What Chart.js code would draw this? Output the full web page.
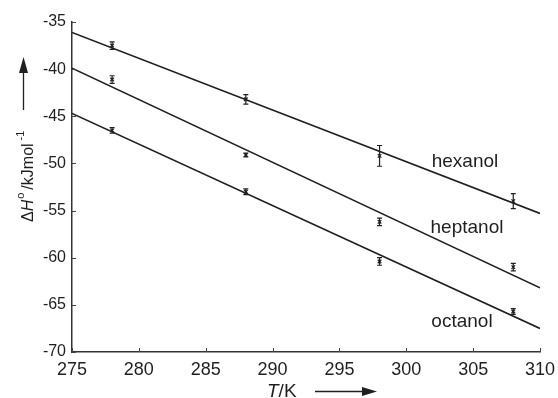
<!DOCTYPE html>
<html>
<head>
<meta charset="utf-8">
<script src="https://cdn.jsdelivr.net/npm/chart.js@4/dist/chart.umd.min.js"></script>
<style>
  html, body { margin: 0; padding: 0; background: #fff; }
  #wrap { width: 558px; height: 398px; }
</style>
</head>
<body>
<div id="wrap"><canvas id="chart" width="558" height="398"></canvas></div>
<script>
// Data
const temps = [278, 288, 298, 308];
const hexanol = [-37.5, -43.2, -49.2, -54.0];
const hexanolErr = [0.4, 0.5, 1.1, 0.8];
const heptanol = [-41.1, -49.1, -56.2, -61.0];
const heptanolErr = [0.4, 0.2, 0.4, 0.4];
const octanol = [-46.5, -53.0, -60.4, -65.7];
const octanolErr = [0.3, 0.3, 0.4, 0.3];

// fitted lines, ends at T = 275 and T = 310
const fitX = [275, 310];
const hexanolFit = [-36.1, -55.3];
const heptanolFit = [-39.9, -63.2];
const octanolFit = [-44.7, -67.5];

const xTicks = [275, 280, 285, 290, 295, 300, 305, 310];
const yTicks = [-35, -40, -45, -50, -55, -60, -65, -70];

const ink = '#1f1f1f';
const font = '"Liberation Sans", Arial, sans-serif';

const toPoints = (xs, ys) => xs.map((x, i) => ({ x: x, y: ys[i] }));

function pointSet(ys, errs) {
    return {
        type: 'scatter',
        data: toPoints(temps, ys),
        errors: errs,
        pointStyle: 'crossRot',
        pointRadius: 2.5,
        borderColor: ink,
        borderWidth: 1.3,
        backgroundColor: ink
    };
}

function fitSet(ys) {
    return {
        type: 'line',
        data: toPoints(fitX, ys),
        borderColor: ink,
        borderWidth: 1.6,
        pointRadius: 0,
        fill: false
    };
}

// Error bars, inward tick marks, series labels and axis titles
const extras = {
    id: 'extras',
    afterDatasetsDraw(chart) {
        const ctx = chart.ctx;
        const xs = chart.scales.x;
        const ys = chart.scales.y;
        ctx.save();
        ctx.strokeStyle = ink;
        ctx.fillStyle = ink;
        ctx.lineWidth = 1.2;

        chart.data.datasets.forEach(ds => {
            if (!ds.errors) return;
            ds.data.forEach((p, i) => {
                const px = xs.getPixelForValue(p.x);
                const top = ys.getPixelForValue(p.y + ds.errors[i]);
                const bot = ys.getPixelForValue(p.y - ds.errors[i]);
                ctx.beginPath();
                ctx.moveTo(px, top); ctx.lineTo(px, bot);
                ctx.moveTo(px - 2.5, top); ctx.lineTo(px + 2.5, top);
                ctx.moveTo(px - 2.5, bot); ctx.lineTo(px + 2.5, bot);
                ctx.stroke();
            });
        });

        // tick marks pointing into the plot
        ctx.lineWidth = 1;
        ctx.strokeStyle = '#444';
        xTicks.forEach(v => {
            const px = Math.round(xs.getPixelForValue(v)) + 0.5;
            ctx.beginPath();
            ctx.moveTo(px, ys.bottom); ctx.lineTo(px, ys.bottom - 4);
            ctx.stroke();
        });
        yTicks.forEach(v => {
            const py = Math.round(ys.getPixelForValue(v)) + 0.5;
            ctx.beginPath();
            ctx.moveTo(xs.left, py); ctx.lineTo(xs.left + 4, py);
            ctx.stroke();
        });

        // series names
        ctx.fillStyle = ink;
        ctx.font = '19px ' + font;
        ctx.textAlign = 'center';
        ctx.textBaseline = 'middle';
        ctx.fillText('hexanol', 465, 162);
        ctx.fillText('heptanol', 467, 228);
        ctx.fillText('octanol', 462, 322);

        // x title with arrow
        ctx.font = 'italic 19px ' + font;
        ctx.textAlign = 'left';
        ctx.textBaseline = 'alphabetic';
        ctx.fillText('T', 267, 397);
        let w = ctx.measureText('T').width;
        ctx.font = '19px ' + font;
        ctx.fillText('/K', 267 + w, 397);
        ctx.lineWidth = 1.3;
        ctx.strokeStyle = ink;
        ctx.beginPath();
        ctx.moveTo(315, 391.5); ctx.lineTo(366, 391.5);
        ctx.stroke();
        ctx.beginPath();
        ctx.moveTo(377, 391.5); ctx.lineTo(362, 387); ctx.lineTo(362, 396);
        ctx.closePath(); ctx.fill();

        // y title (rotated) with arrow
        ctx.save();
        ctx.translate(33, 222);
        ctx.rotate(-Math.PI / 2);
        let cx = 0;
        ctx.font = '16px ' + font;
        ctx.fillText('\u0394', cx, 0); cx += ctx.measureText('\u0394').width;
        ctx.font = 'italic 16px ' + font;
        ctx.fillText('H', cx, 0); cx += ctx.measureText('H').width + 1;
        ctx.font = '11px ' + font;
        ctx.fillText('o', cx, -9); cx += ctx.measureText('o').width + 3;
        ctx.font = '16px ' + font;
        ctx.fillText('/kJmol', cx, 0); cx += ctx.measureText('/kJmol').width + 3;
        ctx.font = '11px ' + font;
        ctx.fillText('-1', cx, -9);
        ctx.restore();

        ctx.beginPath();
        ctx.moveTo(23.5, 110); ctx.lineTo(23.5, 70);
        ctx.stroke();
        ctx.beginPath();
        ctx.moveTo(23.5, 57); ctx.lineTo(19, 73); ctx.lineTo(28, 73);
        ctx.closePath(); ctx.fill();

        ctx.restore();
    }
};

new Chart(document.getElementById('chart'), {
    data: {
        datasets: [
            fitSet(hexanolFit), fitSet(heptanolFit), fitSet(octanolFit),
            pointSet(hexanol, hexanolErr), pointSet(heptanol, heptanolErr), pointSet(octanol, octanolErr)
        ]
    },
    options: {
        responsive: false,
        animation: false,
        events: [],
        layout: { padding: { top: 22, right: 18, left: 0, bottom: 0 } },
        plugins: { legend: { display: false }, tooltip: { enabled: false } },
        scales: {
            x: {
                type: 'linear',
                min: 275, max: 310,
                afterFit: s => { s.height = 46; s.paddingLeft = 0; s.paddingRight = 0; },
                afterBuildTicks: s => { s.ticks = xTicks.map(v => ({ value: v })); },
                grid: { drawOnChartArea: false, drawTicks: false },
                border: { display: true, color: '#333', width: 1.5 },
                ticks: {
                    padding: 7,
                    color: ink,
                    maxRotation: 0,
                    font: { family: font, size: 18 }
                }
            },
            y: {
                type: 'linear',
                min: -70, max: -35,
                afterFit: s => { s.width = 72; s.paddingTop = 0; s.paddingBottom = 0; },
                afterBuildTicks: s => { s.ticks = yTicks.map(v => ({ value: v })); },
                grid: { drawOnChartArea: false, drawTicks: false },
                border: { display: true, color: '#333', width: 1.5 },
                ticks: {
                    padding: 6,
                    color: ink,
                    font: { family: font, size: 16 }
                }
            }
        }
    },
    plugins: [extras]
});
</script>
</body>
</html>
